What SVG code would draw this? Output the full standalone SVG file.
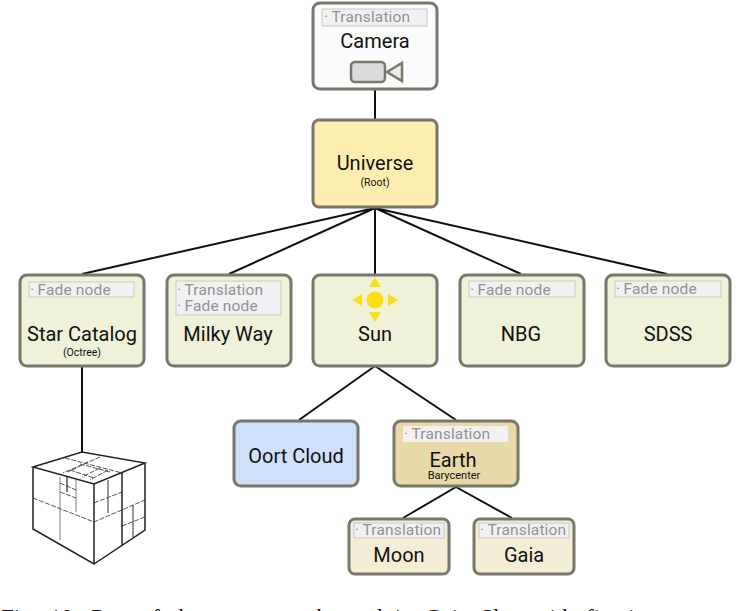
<svg xmlns="http://www.w3.org/2000/svg" width="736" height="611" viewBox="0 0 736 611">
<style>
text{font-family:Roboto,"Liberation Sans",sans-serif;text-anchor:middle;fill:#111}
.box{stroke:#77776b;stroke-width:3;}
.tag{fill:#f1f1f3;stroke:#c9c9c9;stroke-width:1}
.t{font-size:15.5px;fill:#929292;text-anchor:start;letter-spacing:.15px}
.n{font-size:20px}
.s{font-size:10.5px}
.g{fill:#eff2d9}
.b{fill:#f4edd6}
.c{stroke:#111;stroke-width:2;fill:none}
.q{stroke:#222;fill:none;stroke-width:1.5}
.d{stroke:#555;fill:none;stroke-width:1;stroke-dasharray:5 1.5}
.l{stroke:#aaa;fill:none;stroke-width:1.5}
.sun{fill:#fbdf14}
</style>
<rect width="736" height="611" fill="#fff"/>
<g id="connectors">
<path class="c" d="M375 89V120M375 208L82 274M375 208L229 274M375 208V274M375 208L521 274M375 208L667 274M375 366L299 420M375 366L456 420M456 487L403 518M456 487L512 518M82 366V452"/>
</g>
<g id="camera">
<rect class="box" x="313" y="3" width="124" height="86" rx="7" fill="#fbfbfb"/>
<rect class="tag" x="322" y="9" width="105" height="17"/>
<text class="t" x="324" y="22">·&#8201;Translation</text>
<text class="n" x="375" y="48">Camera</text>
<rect x="351" y="62" width="34" height="20" rx="4" fill="#dcdcdc" stroke="#77776b" stroke-width="2.5"/>
<path d="M387 72L402 63V81Z" fill="#ececec" stroke="#77776b" stroke-width="2.5"/>
</g>
<g id="universe">
<rect class="box" x="313" y="120" width="124" height="87" rx="6" fill="#fdeeb0"/>
<text class="n" x="375" y="170">Universe</text>
<text class="s" x="375" y="186">(Root)</text>
</g>
<g id="star-catalog">
<rect class="box g" x="20" y="275" width="124" height="91" rx="7"/>
<rect class="tag" x="29" y="282" width="105" height="15"/>
<text class="t" x="30" y="295">·&#8201;Fade node</text>
<text class="n" x="82" y="341">Star Catalog</text>
<text class="s" x="82" y="356">(Octree)</text>
</g>
<g id="milky-way">
<rect class="box g" x="167" y="275" width="124" height="91" rx="7"/>
<rect class="tag" x="176" y="281" width="105" height="34"/>
<text class="t" x="177" y="295">·&#8201;Translation</text>
<text class="t" x="177" y="311">·&#8201;Fade node</text>
<text class="n" x="228" y="341">Milky Way</text>
</g>
<g id="sun">
<rect class="box g" x="313" y="275" width="124" height="91" rx="7"/>
<circle class="sun" cx="375" cy="300" r="8.5"/>
<path class="sun" d="M375 277L381 287H369ZM375 322L381 312H369ZM352 300L362 294V306ZM398 300L388 294V306Z"/>
<text class="n" x="375" y="341">Sun</text>
</g>
<g id="nbg">
<rect class="box g" x="460" y="275" width="124" height="91" rx="7"/>
<rect class="tag" x="469" y="281" width="106" height="16"/>
<text class="t" x="470" y="295">·&#8201;Fade node</text>
<text class="n" x="521" y="341">NBG</text>
</g>
<g id="sdss">
<rect class="box g" x="606" y="275" width="124" height="91" rx="7"/>
<rect class="tag" x="615" y="281" width="106" height="16"/>
<text class="t" x="616" y="294">·&#8201;Fade node</text>
<text class="n" x="668" y="341">SDSS</text>
</g>
<g id="oort-cloud">
<rect class="box" x="234" y="421" width="124" height="65" rx="7" fill="#cfe0fb"/>
<text class="n" x="296" y="463">Oort Cloud</text>
</g>
<g id="earth">
<rect class="box" x="394" y="421" width="124" height="65" rx="7" fill="#e8d9a8"/>
<rect x="403" y="426" width="105" height="16" fill="#f1f1f3"/>
<text class="t" x="404" y="439">·&#8201;Translation</text>
<text class="n" x="453" y="467">Earth</text>
<text class="s" x="454" y="479" style="font-size:11px">Barycenter</text>
</g>
<g id="moon">
<rect class="box b" x="349" y="519" width="100" height="55" rx="6"/>
<rect class="tag" x="354" y="523" width="90" height="15"/>
<text class="t" x="355" y="535">·&#8201;Translation</text>
<text class="n" x="399" y="562">Moon</text>
</g>
<g id="gaia">
<rect class="box b" x="474" y="519" width="100" height="55" rx="6"/>
<rect class="tag" x="479" y="523" width="90" height="15"/>
<text class="t" x="480" y="535">·&#8201;Translation</text>
<text class="n" x="524" y="562">Gaia</text>
</g>
<g id="octree">
<path class="l" d="M60 477V540M76 480V512"/>
<path class="l" d="M108 480V513M133 505V537" style="stroke:#777"/>
<path class="d" d="M33 498L94 522L145 500M122 526L145 517M94 503L122 492M60 483L76 490M60 492L76 498M65 458L122 473M100 457L63 473M70 470L94 478M80 464L110 472M88 462L68 472M100 468L82 477M108 470L90 480"/>
<path class="q" d="M67 477V492" style="stroke-width:1.2"/>
<path class="q" d="M33 467L82 452L145 463L94 484ZM33 467V529L94 564V484M145 463V530L94 564M122 473V546"/>
</g>
<text x="1" y="625" style="font-family:'Liberation Serif',serif;font-size:23px;text-anchor:start;word-spacing:6.5px">Fig. 10: Part of the scene graph used in Gaia Sky, with fixati</text>
</svg>
